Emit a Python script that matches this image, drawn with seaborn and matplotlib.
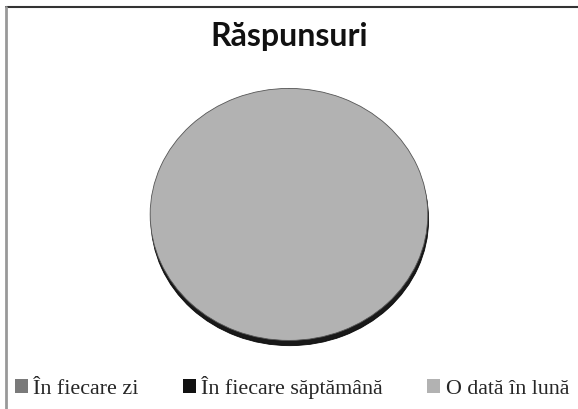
import matplotlib
matplotlib.use("Agg")
import matplotlib.pyplot as plt
import seaborn as sns
from matplotlib.lines import Line2D
from matplotlib.patches import Patch

sns.set_theme(style="white")

categories = ["În fiecare zi", "În fiecare săptămână", "O dată în lună"]
values = [0, 0, 100]
colors = ["#7a7a7a", "#111111", "#b2b2b2"]

fig = plt.figure(figsize=(5.78, 4.10), dpi=100)
ax = fig.add_axes([0.255, 0.155, 0.49, 0.63])

wedges, _ = ax.pie(values, colors=colors, startangle=90, counterclock=False,
                   wedgeprops=dict(linewidth=0.6, edgecolor="#555555"),
                   shadow={"ox": 0.004, "oy": -0.03, "shade": 1.0, "alpha": 0.9})
ax.set_aspect("auto", adjustable="box")
ax.set_xlim(-1.02, 1.02)
ax.set_ylim(-1.04, 1.01)
ax.set_position([0.255, 0.155, 0.49, 0.63])

fig.text(0.5, 0.912, "Răspunsuri", ha="center", va="center",
         fontsize=23, fontweight="bold", family="Lato", color="#111111")

handles = [Patch(facecolor=c, edgecolor="none") for c in colors]
fig.legend(handles, categories, loc="lower center", bbox_to_anchor=(0.505, -0.022),
           ncol=3, frameon=False, handlelength=0.6, handleheight=0.6,
           handletextpad=0.25, columnspacing=2.0,
           prop={"family": "Liberation Serif", "size": 15.8})

# chart frame edges
fig.add_artist(Line2D([0.01, 1.0], [0.98, 0.98], color="#333333", lw=1.5))
fig.add_artist(Line2D([0.01, 0.01], [0.0, 0.98], color="#999999", lw=2))

fig.savefig("out.png", dpi=100, facecolor="white")
